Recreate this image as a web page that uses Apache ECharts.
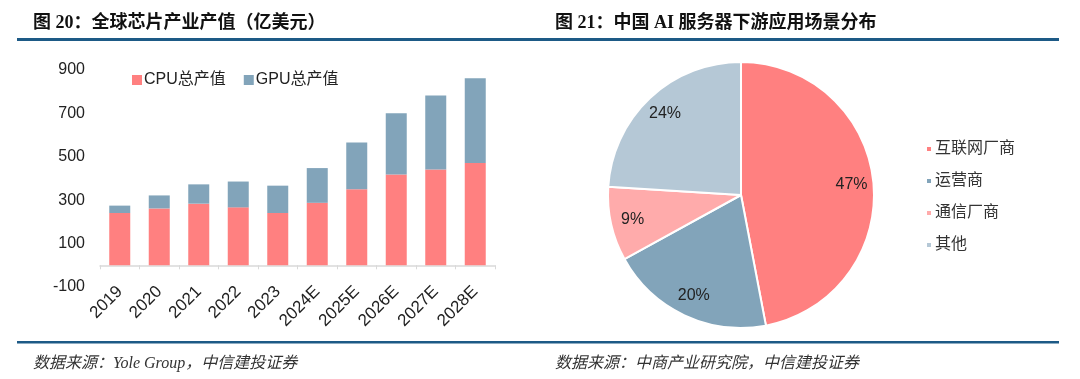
<!DOCTYPE html>
<html>
<head>
<meta charset="utf-8">
<script src="https://cdn.jsdelivr.net/npm/echarts@6/dist/echarts.min.js"></script>
<style>
html,body{margin:0;padding:0;background:#fff;}
#main{width:1080px;height:379px;}
</style>
</head>
<body>
<div id="main"></div>
<script>
// ---- data ----
var years = ['2019','2020','2021','2022','2023','2024E','2025E','2026E','2027E','2028E'];
var cpuValues = [241, 262, 284, 267, 241, 288, 350, 419, 442, 471];
var gpuValues = [34, 60, 89, 119, 126, 160, 216, 282, 340, 391];
var yTicks = [-100, 100, 300, 500, 700, 900];
var pieNames = ['互联网厂商', '运营商', '通信厂商', '其他'];
var pieValues = [47, 20, 9, 24];

var cRed = '#ff8080';
var cBlue = '#82a4ba';
var cPink = '#ffabab';
var cLight = '#b5c8d6';
var pieColors = [cRed, cBlue, cPink, cLight];

var titleFont = '"Liberation Serif", "Noto Sans CJK SC", serif';
var sansFont = '"Liberation Sans", "Noto Sans CJK SC", sans-serif';

var pieData = pieNames.map(function (n, i) {
  return { name: n, value: pieValues[i], itemStyle: { color: pieColors[i] } };
});

var chart = echarts.init(document.getElementById('main'));
chart.setOption({
  animation: false,
  backgroundColor: '#fff',
  title: [
    { text: '图 20：全球芯片产业产值（亿美元）', left: 28, top: 9,
      textStyle: { fontFamily: titleFont, fontSize: 18, fontWeight: 'bold', color: '#111' } },
    { text: '图 21：中国 AI 服务器下游应用场景分布', left: 550, top: 9,
      textStyle: { fontFamily: titleFont, fontSize: 18, fontWeight: 'bold', color: '#111' } },
    { text: '数据来源：Yole Group，中信建投证券', left: 28, top: 351,
      textStyle: { fontFamily: titleFont, fontSize: 16, fontStyle: 'italic', fontWeight: 'normal', color: '#333' } },
    { text: '数据来源：中商产业研究院，中信建投证券', left: 550, top: 351,
      textStyle: { fontFamily: titleFont, fontSize: 16, fontStyle: 'italic', fontWeight: 'normal', color: '#333' } }
  ],
  graphic: [
    { type: 'rect', shape: { x: 17, y: 38, width: 1042, height: 3 }, style: { fill: '#1d5a86' }, silent: true },
    { type: 'rect', shape: { x: 17, y: 341, width: 1042, height: 2.5 }, style: { fill: '#1d5a86' }, silent: true }
  ],
  legend: [
    { data: ['CPU总产值', 'GPU总产值'], left: 127, top: 67, itemWidth: 10, itemHeight: 10, itemGap: 18,
      icon: 'rect', textStyle: { fontFamily: sansFont, fontSize: 16, color: '#222', padding: [0, 0, 0, -3] } },
    { data: pieNames, orient: 'vertical', left: 920, top: 136, itemWidth: 6, itemHeight: 6, itemGap: 16,
      icon: 'rect', textStyle: { fontFamily: titleFont, fontSize: 16, color: '#333', padding: [0, 0, 0, -2] } }
  ],
  grid: { left: 100, right: 585, top: 70, bottom: 92, containLabel: false },
  xAxis: {
    type: 'category', data: years,
    axisLine: { onZero: true, lineStyle: { color: '#d9d9d9', width: 1.5 } },
    axisTick: { show: true, length: 4, lineStyle: { color: '#d9d9d9' } },
    axisLabel: { interval: 0, rotate: 45, margin: 2, fontFamily: sansFont, fontSize: 17, color: '#222' }
  },
  yAxis: {
    type: 'value', min: yTicks[0], max: yTicks[yTicks.length - 1], interval: 200,
    axisLine: { show: false }, axisTick: { show: false }, splitLine: { show: false },
    axisLabel: { margin: 15, fontFamily: sansFont, fontSize: 16, color: '#222' }
  },
  series: [
    { name: 'CPU总产值', type: 'bar', stack: 'total', data: cpuValues, barWidth: 21,
      itemStyle: { color: cRed } },
    { name: 'GPU总产值', type: 'bar', stack: 'total', data: gpuValues, barWidth: 21,
      itemStyle: { color: cBlue } },
    { name: 'pie', type: 'pie', center: [741, 195], radius: [0, 133], startAngle: 90, clockwise: true,
      data: pieData, label: { show: false }, labelLine: { show: false },
      itemStyle: { borderColor: '#fff', borderWidth: 2 } },
    { name: 'pieLabels', type: 'pie', center: [741, 195], radius: [0, 216], startAngle: 90, clockwise: true,
      silent: true, z: 5,
      data: pieNames.map(function (n, i) { return { name: n, value: pieValues[i] }; }),
      itemStyle: { color: 'rgba(0,0,0,0)', borderWidth: 0 },
      label: { show: true, position: 'inside', formatter: '{c}%', fontFamily: sansFont, fontSize: 16, color: '#222' },
      labelLine: { show: false }, emphasis: { disabled: true } }
  ]
});
</script>
</body>
</html>
